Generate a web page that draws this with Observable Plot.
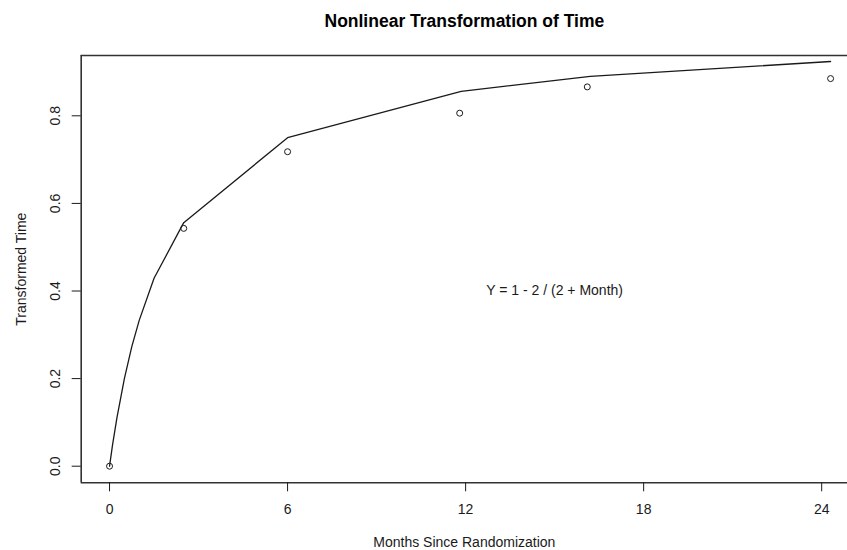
<!DOCTYPE html>
<html>
<head>
<meta charset="utf-8">
<script src="https://cdn.jsdelivr.net/npm/d3@7"></script>
<script src="https://cdn.jsdelivr.net/npm/@observablehq/plot@0.6"></script>
<style>
  html, body { margin: 0; padding: 0; background: #fff; }
  #chart svg { display: block; }
</style>
</head>
<body>
<div id="chart"></div>
<script>
// Observed (mean) transformed times
const pointMonths = [0, 2.5, 6, 11.8, 16.1, 24.3];
const pointValues = [0, 0.543, 0.718, 0.806, 0.866, 0.885];

// Curve Y = 1 - 2 / (2 + Month)
const lineMonths = [0, 0.1, 0.25, 0.5, 0.75, 1, 1.5, 2.5, 6, 11.85, 16.2, 24.3];
const lineValues = [0, 0.048, 0.111, 0.2, 0.273, 0.333, 0.429, 0.556, 0.75, 0.856, 0.89, 0.924];

// Tick labels
const xTicks = [0, 6, 12, 18, 24];
const yTicks = [0, 0.2, 0.4, 0.6, 0.8];

const titleText = "Nonlinear Transformation of Time";
const xLabel = "Months Since Randomization";
const yLabel = "Transformed Time";
const annotation = "Y = 1 - 2 / (2 + Month)";
const annotationMonth = 15;
const annotationValue = 0.4;

const points = pointMonths.map((m, i) => ({month: m, value: pointValues[i]}));
const curve = lineMonths.map((m, i) => ({month: m, value: lineValues[i]}));

const xDomain = [-0.955, 24.87];
const yDomain = [-0.0379, 0.9377];
const ink = "#1a1a1a";
const font = "Liberation Sans, Arial, Helvetica, sans-serif";

const chart = Plot.plot({
  width: 847,
  height: 550,
  marginLeft: 80.7,
  marginRight: 0,
  marginTop: 55,
  marginBottom: 67.7,
  style: {fontFamily: font, background: "#fff", color: ink},
  x: {domain: xDomain},
  y: {domain: yDomain},
  marks: [
    // plot box (left, top, bottom)
    Plot.ruleX([xDomain[0]], {stroke: "#333", strokeWidth: 1.6}),
    Plot.ruleY(yDomain, {stroke: "#333", strokeWidth: 1.6}),
    // x axis
    Plot.axisX(xTicks, {
      tickSize: 9, tickPadding: 12, fontSize: 14, stroke: ink, color: ink,
      tickFormat: d3.format("d"), label: null
    }),
    // y axis ticks
    Plot.axisY(yTicks, {tickSize: 9, stroke: ink, text: null, label: null}),
    // y tick labels rotated
    Plot.text(yTicks, {
      y: d => d, frameAnchor: "left", text: d3.format(".1f"),
      rotate: -90, dx: -25.7, textAnchor: "middle", lineAnchor: "middle",
      fontSize: 14, fill: ink
    }),
    // curve
    Plot.line(curve, {x: "month", y: "value", stroke: ink, strokeWidth: 1.3}),
    // points
    Plot.dot(points, {x: "month", y: "value", r: 3, stroke: ink, fill: "none", strokeWidth: 1}),
    // annotation
    Plot.text([annotation], {
      x: () => annotationMonth, y: () => annotationValue, text: d => d,
      fontSize: 14, fill: ink, textAnchor: "middle", lineAnchor: "middle"
    }),
    // title
    Plot.text([titleText], {
      frameAnchor: "top", text: d => d, dy: -34, fontSize: 17.5, fontWeight: "bold",
      fill: "#000", lineAnchor: "middle"
    }),
    // x label
    Plot.text([xLabel], {
      frameAnchor: "bottom", text: d => d, dy: 59.5, fontSize: 14, fill: ink, lineAnchor: "middle"
    }),
    // y label
    Plot.text([yLabel], {
      frameAnchor: "left", text: d => d, dx: -59.7, rotate: -90, fontSize: 14, fill: ink,
      textAnchor: "middle", lineAnchor: "middle"
    })
  ]
});

document.getElementById("chart").appendChild(chart);
</script>
</body>
</html>
